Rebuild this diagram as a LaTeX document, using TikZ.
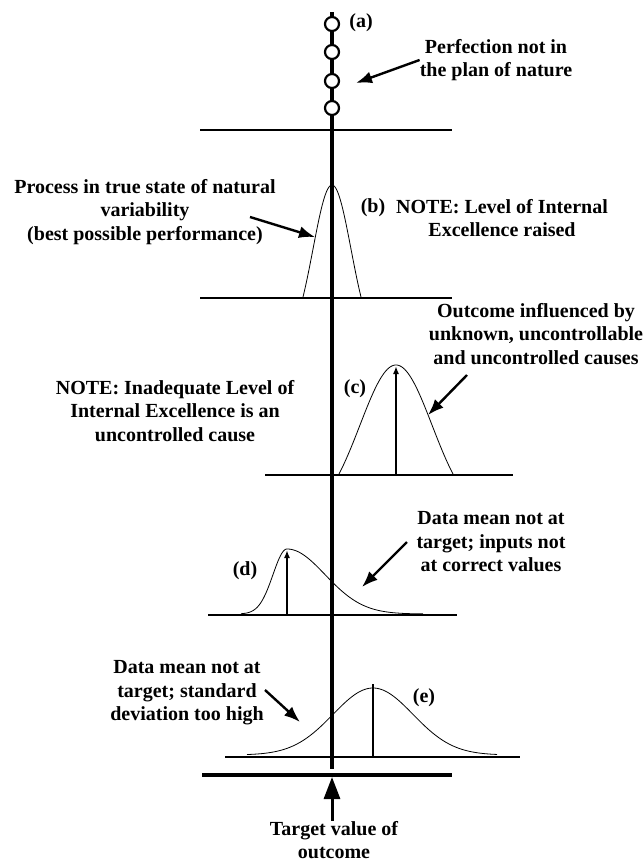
\documentclass[tikz,border=0pt]{standalone}
\usepackage{fontspec}
\setmainfont{Liberation Serif}
\usepackage{tikz}
\usetikzlibrary{arrows.meta}

\begin{document}
\begin{tikzpicture}[x=1pt,y=-1pt,
    txt/.style={align=center,inner sep=0pt,font=\fontsize{20}{23.5}\selectfont\bfseries},
    axisline/.style={line width=4pt},
    bar/.style={line width=2.8pt},
    bell/.style={line width=0.8pt},
    callout/.style={line width=2.4pt,-{Latex[length=16pt,width=12pt]}},
    meanarrow/.style={line width=2.5pt,-{Latex[length=8pt,width=6pt]}},
    bead/.style={circle,draw,line width=2.2pt,fill=white,minimum size=14pt,inner sep=0pt}]
    \useasboundingbox (0,0) rectangle (644,863);
    %中心の軸（目標値）
    \coordinate (axtop) at (332,12);
    \coordinate (axbot) at (332,769);
    \draw[axisline] (axtop)--(axbot);
    \foreach \y/\n in {24/1,52/2,81/3,108/4}
        \node[bead] (bead\n) at (332,\y) {};
    %横の線
    \draw[bar] (200,130)--(452,130);
    \draw[bar] (200,298)--(452,298);
    \draw[bar] (265,475)--(513,475);
    \draw[bar] (208,615)--(457,615);
    \draw[bar] (225,757)--(520,757);
    \draw[line width=4pt] (202,775)--(452,775);
    %分布の曲線 (b)(c)(d)(e)
    \draw[bell] plot[domain=-29:29,samples=80] ({332+\x},{297-112*(exp(-(\x)*(\x)/722)-0.312)/0.688});
    \draw[bell] plot[domain=-57:57,samples=100] ({396+\x},{474-109*(exp(-(\x)*(\x)/2592)-0.2855)/0.7145});
    \draw[bell] plot[domain=-46:0,samples=50] ({287+\x},{614-65*exp(-(\x)*(\x)/392)})
        -- plot[domain=0:136,samples=100] ({287+\x},{614-65*exp(-(\x/10)*(\x/10)/28.88)});
    \draw[bell] plot[domain=-126:124,samples=120] ({373+\x},{755-67*exp(-(\x/10)*(\x/10)/32)});
    %平均の位置
    \coordinate (mc0) at (396,474);
    \coordinate (mc1) at (396,366);
    \draw[meanarrow] (mc0)--(mc1);
    \coordinate (md0) at (287,614);
    \coordinate (md1) at (287,550);
    \draw[meanarrow] (md0)--(md1);
    \coordinate (me0) at (373,756);
    \coordinate (me1) at (373,684);
    \draw[line width=2.5pt] (me0)--(me1);
    %ラベル
    \node[txt] (la) at (361,23) {(a)};
    \node[txt] (lb) at (373,208) {(b)};
    \node[txt] (lc) at (355,389) {(c)};
    \node[txt] (ld) at (245,571) {(d)};
    \node[txt] (le) at (424,698) {(e)};
    %説明の文
    \node[txt] (perf) at (496,60) {Perfection not in\\the plan of nature};
    \node[txt] (proc) at (145,212) {Process in true state of natural\\variability\\(best possible performance)};
    \node[txt] (noteb) at (502,218) {NOTE: Level of Internal\\Excellence raised};
    \node[txt] (outc) at (536,334) {Outcome influenced by\\unknown, uncontrollable\\and uncontrolled causes};
    \node[txt] (notec) at (175,411) {NOTE: Inadequate Level of\\Internal Excellence is an\\uncontrolled cause};
    \node[txt] (datad) at (491,542) {Data mean not at\\target; inputs not\\at correct values};
    \node[txt] (datae) at (187,693) {Data mean not at\\target; standard\\deviation too high};
    \node[txt] (target) at (334,840) {Target value of\\outcome};
    %矢印
    \coordinate (ha) at (356,83);
    \draw[callout] (perf.west)--(ha);
    \coordinate (tb) at (250,217);
    \coordinate (hb) at (315,237);
    \draw[callout] (tb)--(hb);
    \coordinate (tc) at (467,375);
    \coordinate (hc) at (428,415);
    \draw[callout] (tc)--(hc);
    \coordinate (td) at (407,542);
    \coordinate (hd) at (362,587);
    \draw[callout] (td)--(hd);
    \coordinate (te) at (265,690);
    \coordinate (he) at (300,722);
    \draw[callout] (te)--(he);
    \coordinate (tgt) at (332,777);
    \draw[line width=3pt,-{Triangle[length=22pt,width=16pt]}] (target.north -| tgt)--(tgt);
\end{tikzpicture}
\end{document}
